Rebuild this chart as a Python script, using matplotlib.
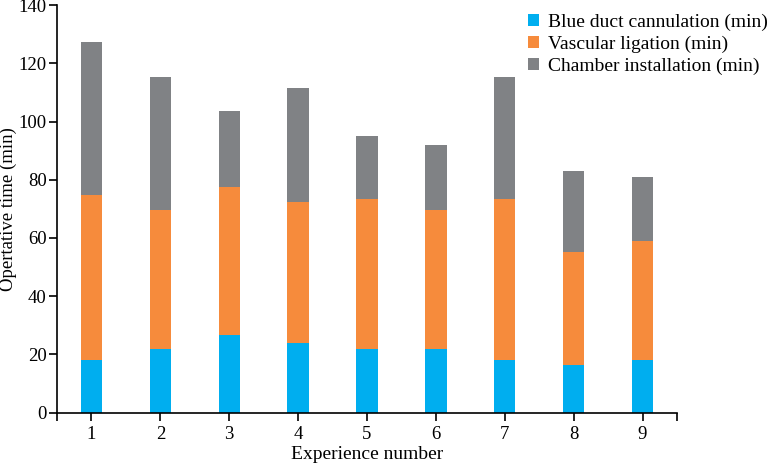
import matplotlib
matplotlib.use("Agg")
import matplotlib.pyplot as plt
import numpy as np

plt.rcParams['font.family'] = ['Liberation Serif', 'DejaVu Serif']

experiments = [1, 2, 3, 4, 5, 6, 7, 8, 9]
blue_duct = [17.9, 21.9, 26.7, 23.9, 21.9, 21.9, 17.9, 16.4, 17.9]
orange_top = [74.6, 69.5, 77.4, 72.3, 73.3, 69.5, 73.3, 55.3, 59.1]
gray_top = [127.2, 115.2, 103.5, 111.4, 94.9, 91.8, 115.2, 83.0, 80.9]
labels = ["Blue duct cannulation (min)", "Vascular ligation (min)",
          "Chamber installation (min)"]

blue_duct = np.array(blue_duct)
vascular = np.array(orange_top) - blue_duct
chamber = np.array(gray_top) - np.array(orange_top)

colors = ["#00aeef", "#f68b3c", "#808285"]

fig = plt.figure(figsize=(7.71, 4.63), dpi=100)
ax = fig.add_axes([0.074, 0.109, 0.804, 0.880])

x = np.array(experiments)
w = 0.31
ax.bar(x, blue_duct, w, color=colors[0], label=labels[0])
ax.bar(x, vascular, w, bottom=blue_duct, color=colors[1], label=labels[1])
ax.bar(x, chamber, w, bottom=blue_duct + vascular, color=colors[2], label=labels[2])

ax.set_xlim(0.5, 9.5)
ax.set_ylim(0, 140)
ax.set_yticks(range(0, 141, 20))
ax.set_xticks(experiments)
ax.set_xticks([0.5, 9.5], minor=True)
ax.tick_params(axis='both', labelsize=13.5, direction='out', length=6, width=1.2)
ax.tick_params(axis='y', pad=1.5)
ax.tick_params(axis='x', which='minor', length=6, width=1.2)
for s in ['top', 'right']:
    ax.spines[s].set_visible(False)
for s in ['left', 'bottom']:
    ax.spines[s].set_linewidth(1.2)

ax.set_xlabel("Experience number", fontsize=14, labelpad=2)
ax.set_ylabel("Opertative time (min)", fontsize=13.5, va='center')
ax.yaxis.set_label_coords(-0.079, 0.5)

fig.legend(loc='upper right', bbox_to_anchor=(1.011, 0.996), frameon=False,
           fontsize=14, handlelength=0.55, handleheight=0.55, handletextpad=0.45,
           labelspacing=0.25, borderaxespad=0.2)

fig.savefig("out.png", dpi=100)
